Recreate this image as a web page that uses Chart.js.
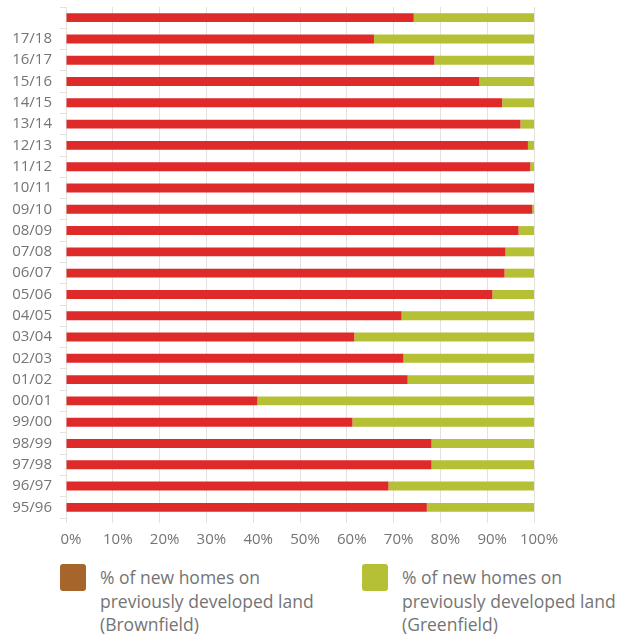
<!DOCTYPE html>
<html>
<head>
<meta charset="utf-8">
<script src="https://cdn.jsdelivr.net/npm/chart.js@4.4.0/dist/chart.umd.min.js"></script>
<style>
    body { margin: 0; background: #fff; width: 622px; height: 637px; overflow: hidden; }
    #wrap { position: relative; top: -10px; width: 622px; height: 566px; }
    .legend { position: absolute; top: 564px; font-family: "Open Sans", sans-serif; font-size: 17.5px; color: #747474; line-height: 23.5px; }
    .legend .sw { position: absolute; left: 0; top: 0; width: 26px; height: 27px; border-radius: 3px; }
    .legend .txt { position: absolute; left: 40px; top: 2px; white-space: nowrap; }
</style>
</head>
<body>
<div id="wrap"><canvas id="chart"></canvas></div>
<div class="legend" id="leg0" style="left:60px"></div>
<div class="legend" id="leg1" style="left:362px"></div>
<script>
// years, top to bottom (top row carries no label in the source)
const years = ['', '17/18', '16/17', '15/16', '14/15', '13/14', '12/13', '11/12', '10/11', '09/10',
    '08/09', '07/08', '06/07', '05/06', '04/05', '03/04', '02/03', '01/02', '00/01', '99/00',
    '98/99', '97/98', '96/97', '95/96'];

// % of new homes on previously developed land
const brownfield = [74.3, 65.8, 78.7, 88.3, 93.2, 97.1, 98.7, 99.2, 100, 99.6,
    96.7, 93.9, 93.7, 91.1, 71.7, 61.6, 72.1, 73.0, 40.9, 61.2,
    78.1, 78.1, 68.9, 77.1];
const greenfield = brownfield.map(v => +(100 - v).toFixed(1));

const seriesLabels = [
    ['% of new homes on', 'previously developed land', '(Brownfield)'],
    ['% of new homes on', 'previously developed land', '(Greenfield)']
];
const barColors = ['#de2a28', '#b5c035'];
const legendColors = ['#a5652b', '#b5c035'];
const xTicks = [0, 10, 20, 30, 40, 50, 60, 70, 80, 90, 100];

const gridColor = '#e4e2de';
const textColor = '#747474';

new Chart(document.getElementById('chart'), {
    type: 'bar',
    data: {
        labels: years,
        datasets: [
            { label: seriesLabels[0].join(' '), data: brownfield, backgroundColor: barColors[0] },
            { label: seriesLabels[1].join(' '), data: greenfield, backgroundColor: barColors[1] }
        ]
    },
    options: {
        indexAxis: 'y',
        responsive: true,
        maintainAspectRatio: false,
        animation: false,
        layout: { padding: { left: 0, right: 88, top: 6, bottom: 0 } },
        datasets: { bar: { barPercentage: 0.84, categoryPercentage: 0.5, borderWidth: 0 } },
        plugins: { legend: { display: false }, tooltip: { enabled: false } },
        scales: {
            x: {
                stacked: true,
                min: 0,
                max: 100,
                afterBuildTicks: (scale) => { scale.ticks = xTicks.map(v => ({ value: v })); },
                afterFit: (scale) => { scale.height = 38; },
                grid: { color: gridColor, tickLength: 5, lineWidth: 1 },
                border: { display: false },
                ticks: {
                    color: textColor,
                    font: { family: 'Open Sans', size: 15 },
                    padding: 8,
                    labelOffset: 5,
                    maxRotation: 0,
                    callback: (v) => v + '%'
                }
            },
            y: {
                stacked: true,
                afterFit: (scale) => { scale.width = 66; },
                grid: { drawOnChartArea: false, color: gridColor, tickLength: 6 },
                border: { display: true, color: gridColor },
                ticks: {
                    color: textColor,
                    font: { family: 'Open Sans', size: 15 },
                    padding: 8,
                    autoSkip: false
                }
            }
        }
    }
});

// html legend, multi-line labels
seriesLabels.forEach((lines, i) => {
    const el = document.getElementById('leg' + i);
    el.innerHTML = '<div class="sw" style="background:' + legendColors[i] + '"></div>' +
        '<div class="txt">' + lines.join('<br>') + '</div>';
});
</script>
</body>
</html>
